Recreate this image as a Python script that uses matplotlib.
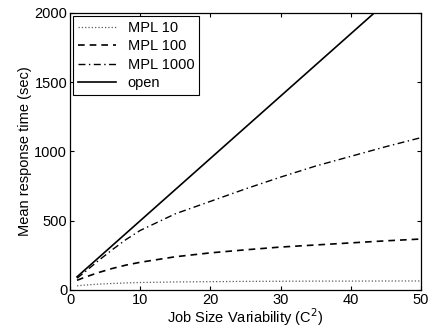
import numpy as np
import matplotlib
matplotlib.use('Agg')
import matplotlib.pyplot as plt

plt.rcParams['font.family'] = ['Liberation Sans', 'DejaVu Sans']

c2 = [1, 2, 4, 6, 8, 10, 15, 20, 25, 30, 35, 40, 45, 50]
mpl10 = [30, 35, 42, 47, 51, 54, 58, 60, 62, 63, 64, 64, 65, 65]
mpl100 = [70, 90, 125, 155, 180, 200, 240, 268, 290, 310, 325, 340, 355, 368]
mpl1000 = [85, 125, 210, 290, 365, 430, 550, 640, 730, 815, 895, 965, 1035, 1100]
open_q = [95, 140, 230, 320, 410, 500, 725, 950, 1175, 1400, 1625, 1850, 2075, 2300]

fig = plt.figure(figsize=(4.33, 3.28), dpi=100)
ax = fig.add_axes([0.1617, 0.1159, 0.8106, 0.8445])

ax.plot(c2, mpl10, color='0.35', linestyle=':', linewidth=0.9, label='MPL 10')
ax.plot(c2, mpl100, color='k', linestyle=(0, (4, 3)), linewidth=1.2, label='MPL 100')
ax.plot(c2, mpl1000, color='k', linestyle=(0, (5, 2.5, 1, 2.5)), linewidth=1.0, label='MPL 1000')
ax.plot(c2, open_q, color='k', linestyle='-', linewidth=1.2, label='open')

ax.set_xlim(0, 50)
ax.set_ylim(0, 2000)
ax.set_xticks([0, 10, 20, 30, 40, 50])
ax.set_yticks([0, 500, 1000, 1500, 2000])
ax.tick_params(direction='in', top=True, right=True, labelsize=10.5, length=3, pad=2)
for s in ax.spines.values():
    s.set_linewidth(0.9)

ax.set_xlabel('Job Size Variability (C$^2$)', fontsize=10.5, labelpad=0)
ax.set_ylabel('Mean response time (sec)', fontsize=10.5, labelpad=2)

leg = ax.legend(loc='upper left', fontsize=10.5, fancybox=False, framealpha=1,
                edgecolor='k', borderpad=0.35, labelspacing=0.3,
                handlelength=2.6, borderaxespad=0.2)
leg.get_frame().set_linewidth(0.8)

plt.savefig('out.png', dpi=100)
